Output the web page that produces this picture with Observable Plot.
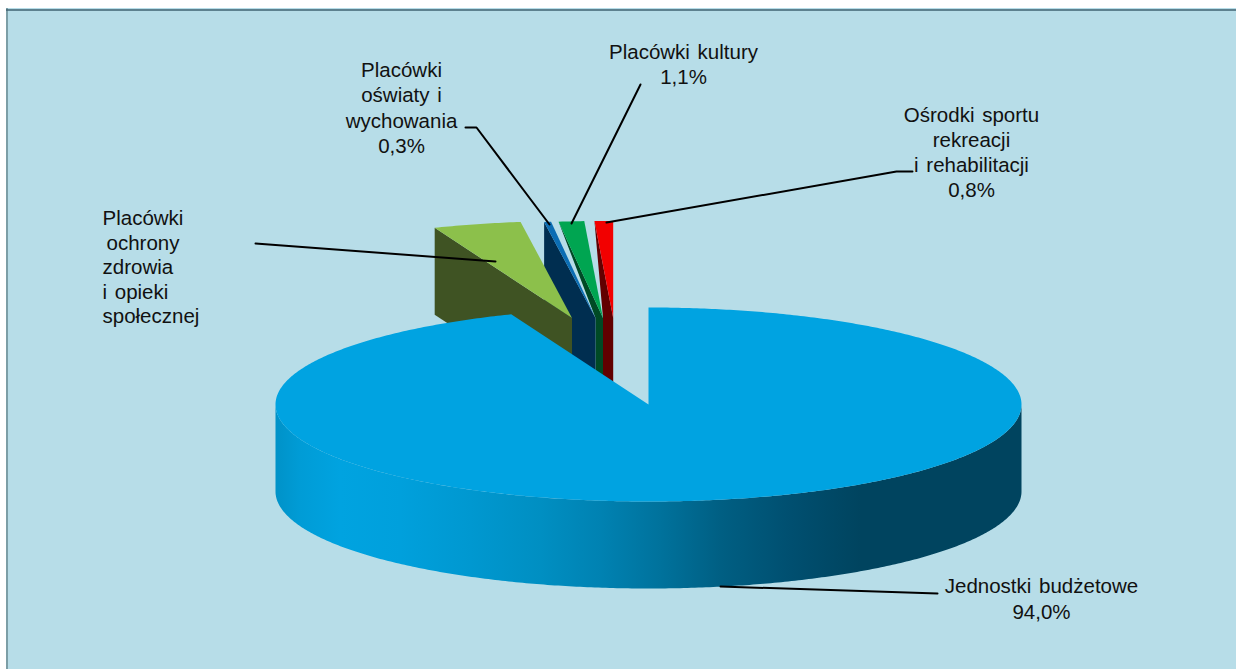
<!DOCTYPE html>
<html>
<head>
<meta charset="utf-8">
<script src="https://cdn.jsdelivr.net/npm/d3@7"></script>
<script src="https://cdn.jsdelivr.net/npm/@observablehq/plot@0.6"></script>
<style>
  html, body { margin: 0; padding: 0; background: #fff; }
  svg { display: block; }
</style>
</head>
<body>
<div id="chart"></div>
<script>
// Data, clockwise from 12 o'clock
const sliceNames = ["Jednostki budżetowe", "Placówki ochrony zdrowia i opieki społecznej", "Placówki oświaty i wychowania", "Placówki kultury", "Ośrodki sportu rekreacji i rehabilitacji"];
const sliceValues = [94.0, 3.8, 0.3, 1.1, 0.8];
const topColors = ["#00A3E1", "#8CC04B", "#0B6DB3", "#00A551", "#F20000"];
const faceColors = ["#00445F", "#3F5323", "#002E50", "#004A25", "#620000"];
const labelLines = ["Placówki kultury", "1,1%", "Placówki", "oświaty i", "wychowania", "0,3%", "Ośrodki sportu", "rekreacji", "i rehabilitacji", "0,8%", "Placówki", "ochrony", "zdrowia", "i opieki", "społecznej", "Jednostki budżetowe", "94,0%"];

// Layout of the projected pie
const W = 1236, H = 669;
const cx = 648, cy = 404, rx = 373, ry = 97, depth = 87;
const explodeX = [0, -76.5, -53, -45.5, -35.3];
const explodeY = [0, -86.5, -86.5, -86.5, -86.5];
const faceToPrevApex = [false, false, false, true, true];

const total = d3.sum(sliceValues);
let acc = 0;
const slices = sliceValues.map((v, i) => {
  const a0 = acc / total * 2 * Math.PI;
  acc += v;
  const a1 = acc / total * 2 * Math.PI;
  return {i, a0, a1, ax: cx + explodeX[i], ay: cy + explodeY[i]};
});
const onRim = (s, a) => ({x: s.ax + rx * Math.sin(a), y: s.ay - ry * Math.cos(a)});
const arcPts = (s, a0, a1) => {
  const n = Math.max(2, Math.ceil(Math.abs(a1 - a0) / 0.01));
  return d3.range(n + 1).map(k => onRim(s, a0 + (a1 - a0) * k / n));
};
const topPoly = s => [{x: s.ax, y: s.ay}, ...arcPts(s, s.a0, s.a1)];
const down = p => ({x: p.x, y: p.y + depth});
const facePoly = s => {
  const outer = onRim(s, s.a0), apex = {x: s.ax, y: s.ay};
  if (faceToPrevApex[s.i]) {
    const prev = slices[s.i - 1], pa = {x: prev.ax, y: prev.ay};
    return [outer, apex, down(apex), down(pa), pa];
  }
  return [outer, apex, down(apex), down(outer)];
};
const poly = (pts, fill) => Plot.line(pts, {x: "x", y: "y", fill, stroke: "none", curve: "linear"});

// Main slice's front wall
const main = slices[0];
const wallTop = arcPts(main, Math.PI / 2, 3 * Math.PI / 2);
const wallPoly = [...wallTop, ...wallTop.map(down).reverse()];

const wallStops = [[275, "#0092C8"], [300, "#009CD6"], [340, "#00A3E0"], [400, "#00A0DC"], [470, "#0098D0"], [540, "#008FC2"], [600, "#0082B2"], [660, "#00729C"], [720, "#005F83"], [790, "#004F70"], [860, "#00445F"], [1021, "#00445F"]];
const defs = () => {
  const d = d3.create("svg:defs");
  const g = d.append("linearGradient").attr("id", "wall").attr("gradientUnits", "userSpaceOnUse")
    .attr("x1", 275).attr("x2", 1021).attr("y1", 0).attr("y2", 0);
  wallStops.forEach(([x, c]) => g.append("stop").attr("offset", (x - 275) / (1021 - 275)).attr("stop-color", c));
  return d.node();
};

// Leader lines
const leaders = [
  [[255, 243], [495, 261]],
  [[465, 127], [476, 127], [549, 224]],
  [[640, 84], [571, 223]],
  [[912, 171], [896, 171], [606, 222]],
  [[720, 586], [937, 593]]
];
const leaderData = leaders.flatMap((l, id) => l.map(([x, y]) => ({id, x, y})));

const labelX = [683, 683, 401, 401, 401, 401, 971, 971, 971, 971, 102, 106, 102, 102, 102, 1041, 1041];
const labelY = [52, 77, 70, 95, 121, 146, 115, 140, 165, 190, 218, 243, 267, 292, 316, 586, 612];
const labelAnchor = labelLines.map((_, i) => (i >= 10 && i <= 14) ? "start" : "middle");
const labels = labelLines.map((text, i) => ({text, x: labelX[i], y: labelY[i], a: labelAnchor[i]}));

const order = [4, 3, 2, 1];
const marks = [
  defs,
  Plot.rect([{x1: 6, x2: W, y1: 8, y2: H}], {x1: "x1", x2: "x2", y1: "y1", y2: "y2", fill: "#B7DDE8"}),
  Plot.ruleX([6.5], {y1: 8, y2: H, stroke: "#7C9EA6", strokeWidth: 2}),
  Plot.ruleY([9.5], {x1: 6, x2: W, stroke: "#3F6272", strokeWidth: 1.5}),
  ...order.flatMap(i => [poly(facePoly(slices[i]), faceColors[i]), poly(topPoly(slices[i]), topColors[i])]),
  poly(wallPoly, "url(#wall)"),
  poly(topPoly(main), topColors[0]),
  Plot.line(leaderData, {x: "x", y: "y", z: "id", stroke: "#000", strokeWidth: 2, curve: "linear"}),
  ...["start", "middle"].map(a => Plot.text(labels.filter(d => d.a === a), {
    x: "x", y: "y", text: "text", textAnchor: a, lineAnchor: "middle",
    fontSize: 20.5, fontFamily: "'Liberation Sans', Arial, sans-serif", fill: "#111",
    render: (i, s, v, d, c, next) => { const g = next(i, s, v, d, c); g.style.wordSpacing = "2px"; return g; }
  }))
];

const chart = Plot.plot({
  width: W, height: H,
  margin: 0,
  x: {type: "linear", domain: [0, W], range: [0, W], axis: null},
  y: {type: "linear", domain: [0, H], range: [0, H], axis: null},
  style: {background: "#fff", overflow: "hidden"},
  marks
});
document.getElementById("chart").append(chart);
</script>
</body>
</html>
